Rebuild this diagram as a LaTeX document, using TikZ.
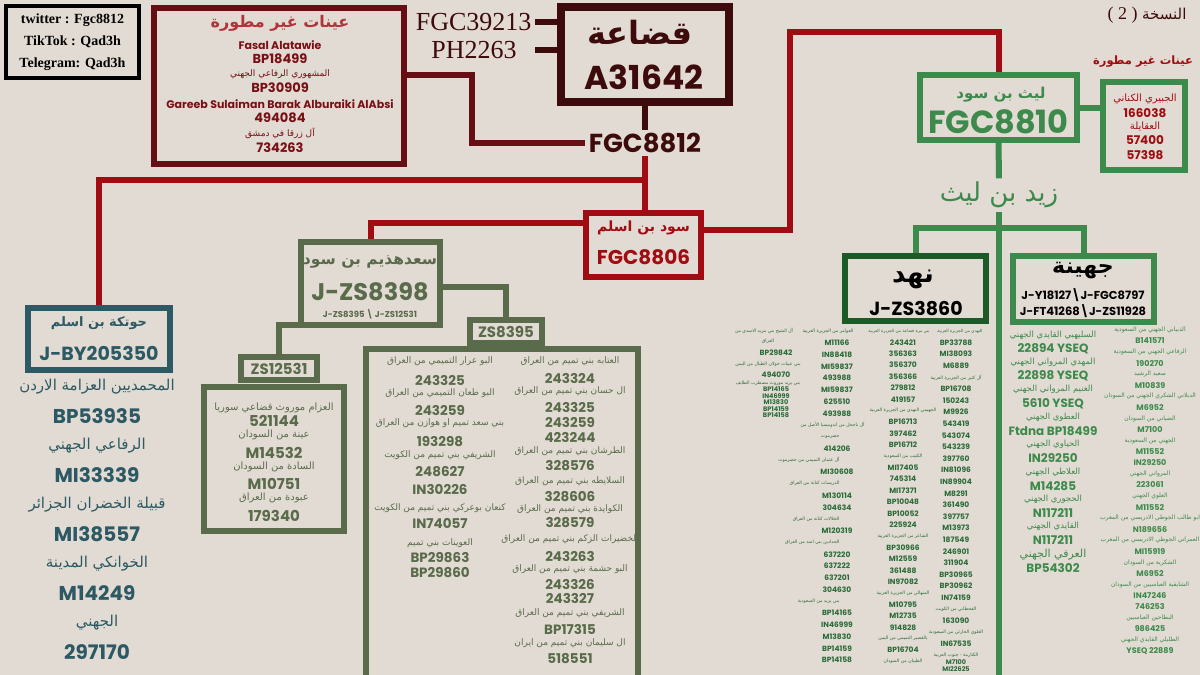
\documentclass[tikz,border=0pt]{standalone}
\usepackage{fontspec}
\setmainfont{Liberation Serif}
\newfontfamily\arabicfont[Script=Arabic]{DejaVu Sans}
\newfontfamily\numfont{Poppins}
\TeXXeTstate=1
\newcommand\fsz[1]{\fontsize{#1}{#1}\selectfont}
\newcommand\ar[1]{{\arabicfont\beginR#1\endR}}
\newcommand\plainwrap[1]{#1}
\definecolor{paper}{HTML}{E2DBD3}
\definecolor{qmaroon}{HTML}{3D0B0C}
\definecolor{umaroon}{HTML}{650E13}
\definecolor{ured}{HTML}{B3333A}
\definecolor{utext}{HTML}{7A1016}
\definecolor{sred}{HTML}{A00C11}
\definecolor{lgreen}{HTML}{3D8A4C}
\definecolor{ngreen}{HTML}{1C5A27}
\definecolor{ntext}{HTML}{2A6B38}
\definecolor{saadgreen}{HTML}{5A6B4B}
\definecolor{hteal}{HTML}{2C5963}

\begin{document}
\begin{tikzpicture}[x=1pt,y=-1pt,
  arb/.style={font=\fsz{#1},/utils/exec=\let\wrap\ar},
  arbold/.style={font=\bfseries\fsz{#1},/utils/exec=\let\wrap\ar},
  num/.style={font=\numfont\bfseries\fsz{#1},/utils/exec=\let\wrap\plainwrap},
  box/.style={draw,line width=6pt,inner sep=0pt},
  link/.style={line width=6pt},
  uname/.style={num=11},uarab/.style={arb=9},unum/.style={num=13},
  har/.style={arb=15},hnum/.style={num=20},
  zar/.style={arb=10},znum/.style={num=15},
  tar/.style={arb=9},tnum/.style={num=13.5},
  rar/.style={arb=10},rnum/.style={num=12},
  jar/.style={arb=8.5},jbig/.style={arb=11},jnum/.style={num=12},
  kar/.style={arb=6},knum/.style={num=8},
  nar/.style={arb=4.6},nnum/.style={num=7.5},snum/.style={num=6.5},
  aar/.style={arb=4.6,xshift=-8pt},
  ahead/.style={arb=4.6,xshift=-12pt},
  bar/.style={arb=4.6,anchor=east,xshift=6pt},
  bhead/.style={arb=4.6,anchor=east,xshift=20pt},
  chead/.style={arb=4.2,xshift=-4pt},
  dhead/.style={arb=4.2,xshift=4pt},
  nwide/.style={arb=4.6,anchor=east,xshift=31pt}]
\useasboundingbox (0,0) rectangle (1200,675);
\fill[paper] (0,0) rectangle (1200,675);

% contacts
\node[box,line width=4pt,minimum width=133pt,minimum height=72pt,align=center,
  font=\bfseries\fontsize{14}{22}\selectfont] (contact) at (72.5,42)
  {twitter : Fgc8812\\TikTok : Qad3h\\Telegram: Qad3h};

% version
\node[text=qmaroon] (version) at (1147,15)
  {\fsz{18}( 2 )\ {\fsz{15}\ar{النسخة}}};

% Quda'a
\node[box,qmaroon,line width=8pt,minimum width=168pt,minimum height=95pt] (quda) at (645,54.5) {};
\node[arbold=32,text=qmaroon] (quda-name) at (640,32) {\ar{قضاعة}};
\node[num=33,text=qmaroon] (quda-snp) at (644,77) {A31642};
\node[font=\fsz{26},text=qmaroon,anchor=east] (fgc39213) at (535,22) {FGC39213};
\node[font=\fsz{26},text=qmaroon] (ph2263) at (474,50) {PH2263};
\node[num=26,text=qmaroon] (fgc8812) at (645,143) {FGC8812};
\draw[link,qmaroon] (fgc39213.east) -- (fgc39213.east -| quda.west);
\draw[link,qmaroon] (fgc39213.east |- ph2263) -- (ph2263 -| quda.west);
\draw[link,qmaroon] (quda.south) -- (fgc8812.north);

% unsampled (left)
\node[box,umaroon,minimum width=250pt,minimum height=156pt] (unsampled) at (279,86) {};
\node[arbold=16,text=ured] (unsampled-title) at (280,23) {\ar{عينات غير مطورة}};
\foreach \y/\k/\txt [count=\i] in {45/uname/Fasal Alatawie, 59/unum/BP18499,
    74/uarab/المشهوري الرفاعي الجهني, 88/unum/BP30909,
    104/uname/Gareeb Sulaiman Barak Alburaiki AlAbsi, 118/unum/494084,
    133/uarab/آل زرقا في دمشق, 148/unum/734263}
  \node[\k,text=utext] (unsampled-\i) at (280,\y) {\wrap{\txt}};
\draw[link,umaroon] ([yshift=11pt]unsampled.east) -- ++(65,0) |- (fgc8812.west);

% Sod bin Aslam
\node[box,sred,minimum width=115pt,minimum height=64pt] (sod) at (643.5,245) {};
\node[arbold=14,text=sred] (sod-name) at (643.5,228) {\ar{سود بن اسلم}};
\node[num=20,text=sred] (sod-snp) at (643.5,257) {FGC8806};
\coordinate (split) at (fgc8812.south |- 0,180);
\coordinate (bend) at (790,32);
\draw[link,sred] (fgc8812.south) -- (fgc8812.south |- sod.north);

% Hawtaka
\node[box,hteal,minimum width=142pt,minimum height=62pt] (hawtaka) at (99,339) {};
\node[arbold=13,text=hteal] (hawtaka-name) at (99,323) {\ar{حوتكة بن اسلم}};
\node[num=19,text=hteal] (hawtaka-snp) at (99,353) {J-BY205350};
\foreach \k/\txt [count=\i] in {har/المحمديين العزامة الاردن, hnum/BP53935,
    har/الرفاعي الجهني, hnum/MI33339, har/قبيلة الخضران الجزائر, hnum/MI38557,
    har/الخوانكي المدينة, hnum/M14249, har/الجهني, hnum/297170}
  \node[\k,text=hteal] (hawtaka-\i) at (97,{387+(\i-1)*29.4}) {\wrap{\txt}};
\draw[link,sred] (split) -| (hawtaka.north);

% Saad Hudhaym
\node[box,saadgreen,minimum width=139pt,minimum height=83pt] (saad) at (370.5,283.5) {};
\node[arbold=15.5,text=saadgreen] (saad-name) at (370,262) {\ar{سعدهذيم بن سود}};
\node[num=24,text=saadgreen] (saad-snp) at (370,292) {J-ZS8398};
\node[num=8.5,text=saadgreen] (saad-sub) at (370,314) {J-ZS8395 \textbackslash\ J-ZS12531};
\draw[link,sred] ([yshift=22pt]sod.west) -| (saad.north);

\node[box,saadgreen,minimum width=272pt,minimum height=340pt] (tamim) at (502,519) {};
\node[box,saadgreen,minimum width=72pt,minimum height=23pt,num=15,text=saadgreen] (zs8395) at (506,331.5) {ZS8395};
\draw[link,saadgreen] ([yshift=-3.5pt]saad.east) -| (zs8395.north);
\foreach \y/\k/\txt [count=\i] in {361/tar/العتابه بني تميم من العراق, 378/tnum/243324,
    391/tar/ال حسان بني تميم من العراق, 407/tnum/243325, 422/tnum/243259, 437/tnum/423244,
    451/tar/الطرشان بني تميم من العراق, 466/tnum/328576, 481/tar/السلايطه بني تميم من العراق,
    497/tnum/328606, 509/tar/الكوايدة بني تميم من العراق, 523/tnum/328579,
    539/tar/الخضيرات الزكم بني تميم من العراق, 556/tnum/243263,
    569/tar/البو حشمة بني تميم من العراق, 584/tnum/243326, 598/tnum/243327,
    613/tar/الشريفي بني تميم من العراق, 629/tnum/BP17315,
    643/tar/ال سليمان بني تميم من ايران, 659/tnum/518551}
  \node[\k,text=saadgreen] (tamim-r\i) at (570,\y) {\wrap{\txt}};
\foreach \y/\k/\txt [count=\i] in {361/tar/البو عرار التميمي من العراق, 380/tnum/243325,
    393/tar/البو طعان التميمي من العراق, 410/tnum/243259,
    423/tar/بني سعد تميم او هوازن من العراق, 442/tnum/193298,
    455/tar/الشريفي بني تميم من الكويت, 472/tnum/248627, 489/tnum/IN30226,
    508/tar/كنعان بوعركي بني تميم من الكويت, 523/tnum/IN74057,
    543/tar/العوينات بني تميم, 558/tnum/BP29863, 573/tnum/BP29860}
  \node[\k,text=saadgreen] (tamim-l\i) at (440,\y) {\wrap{\txt}};

\node[box,saadgreen,minimum width=76pt,minimum height=23pt,num=15,text=saadgreen] (zs12531) at (279,368.5) {ZS12531};
\node[box,saadgreen,minimum width=140pt,minimum height=144pt] (azzam) at (274,459) {};
\draw[link,saadgreen] ([shift={(3pt,3pt)}]saad.south west) -| (zs12531.north);
\foreach \y/\k/\txt [count=\i] in {408/zar/العزام موروث قضاعي سوريا, 421/znum/521144,
    435/zar/عينة من السودان, 453/znum/M14532, 467/zar/السادة من السودان,
    484/znum/M10751, 498/zar/عبودة من العراق, 516/znum/179340}
  \node[\k,text=saadgreen] (azzam-\i) at (274,\y) {\wrap{\txt}};

% Laith bin Sod
\node[box,lgreen,minimum width=157pt,minimum height=65pt] (laith) at (998.5,107.5) {};
\node[arbold=15,text=lgreen] (laith-name) at (1001,95) {\ar{ليث بن سود}};
\node[num=32,text=lgreen] (laith-snp) at (998.5,122) {FGC8810};
\draw[link,sred] ([yshift=15pt]sod.east) -| (bend) -| (laith.north);
\node[box,lgreen,minimum width=82pt,minimum height=88pt] (laith-unsampled) at (1144,126) {};
\node[arbold=11.5,text=sred] (laith-unsampled-title) at (1143,62) {\ar{عينات غير مطورة}};
\foreach \y/\k/\txt [count=\i] in {99/rar/الجبيري الكناني, 113/rnum/166038,
    126/rar/العقايلة, 140/rnum/57400, 155/rnum/57398}
  \node[\k,text=sred] (laith-unsampled-\i) at (1145,\y) {\wrap{\txt}};
\draw[link,lgreen] (laith.east) -- (laith.east -| laith-unsampled.west);

% Zayd bin Laith
\node[arb=26,text=lgreen] (zayd) at (999,195) {\ar{زيد بن ليث}};
\coordinate (fork) at (zayd.south |- 0,228);
\draw[link,lgreen] (laith.south) -- (zayd.north);
\draw[link,lgreen] (zayd.south) -- (zayd.south |- 0,675);

% Nahd
\node[box,ngreen,minimum width=141pt,minimum height=65pt] (nahd) at (915.5,288.5) {};
\node[arbold=26] (nahd-name) at (913,279) {\ar{نهد}};
\node[num=19] (nahd-snp) at (916,309) {J-ZS3860};
\draw[link,lgreen] (fork) -| (nahd.north);
\foreach \y/\k/\txt [count=\i] in {331/ahead/آل الشيخ بني مزيد الاسدي من, 341/aar/العراق,
    353/nnum/BP29842, 364/aar/بني عبيات خولان الطيال من اليمن, 375/nnum/494070,
    383/aar/بني يزيد موروث مضطرب الطايف, 389.5/snum/BP14165, 396/snum/IN46999,
    402.5/snum/M13830, 409/snum/BP14159, 415.5/snum/BP14158}
  \node[\k,text=ntext] (nahd-a\i) at (776,\y) {\wrap{\txt}};
\foreach \k/\txt [count=\i] in {bhead/العوامر من الجزيرة العربية, nnum/M11166, nnum/IN88418,
    nnum/MI59837, nnum/493988, nnum/MI59837, nnum/625510, nnum/493988,
    nwide/آل باجحل من اندونيسيا الأصل من, bar/حضرموت, nnum/414206,
    bar/آل عثمان التميمي من حضرموت, nnum/MI30608, bar/الدريسات كنانة من العراق,
    nnum/M130114, nnum/304634, bar/الخلالات كنانة من العراق, nnum/M120319,
    bar/الحدادين بني اسد من العراق, nnum/637220, nnum/637222, nnum/637201, nnum/304630,
    bar/بني يزيد من السعودية, nnum/BP14165, nnum/IN46999, nnum/M13830, nnum/BP14159,
    nnum/BP14158}
  \node[\k,text=ntext] (nahd-b\i) at (837,{331+(\i-1)*11.75}) {\wrap{\txt}};
\foreach \k/\txt [count=\i] in {chead/بني مرة قضاعة من الجزيرة العربية, nnum/243421,
    nnum/356363, nnum/356370, nnum/356366, nnum/279812, nnum/419157,
    nar/الجهيمي النهدي من الجزيرة العربية, nnum/BP16713, nnum/397462, nnum/BP16712,
    nar/الكثيب من السعودية, nnum/MI17405, nnum/745314, nnum/MI17371, nnum/BP10048,
    nnum/BP10052, nnum/225924, nar/الشاعر من الجزيرة العربية, nnum/BP30966,
    nnum/M12559, nnum/361488, nnum/IN97082, nar/المنهالي من الجزيرة العربية,
    nnum/M10795, nnum/M12735, nnum/914828, nar/بالقصير التميمي من اليمن,
    nnum/BP16704, nar/الطيبان من السودان}
  \node[\k,text=ntext] (nahd-c\i) at (903,{331+(\i-1)*11.4}) {\wrap{\txt}};
\foreach \k/\txt [count=\i] in {dhead/النهدي من الجزيرة العربية, nnum/BP33788, nnum/MI38093,
    nnum/M6889, nar/آل كثير من الجزيرة العربية, nnum/BP16708, nnum/150243, nnum/M9926,
    nnum/543419, nnum/543074, nnum/543239, nnum/397760, nnum/IN81096, nnum/IN89904,
    nnum/M8291, nnum/361490, nnum/397757, nnum/M13973, nnum/187549, nnum/246901,
    nnum/311904, nnum/BP30965, nnum/BP30962, nnum/IN74159, nar/القحطاني من الكويت,
    nnum/163090, nar/العلوي الحارثي من السعودية, nnum/IN67535}
  \node[\k,text=ntext] (nahd-d\i) at (956,{331+(\i-1)*11.6}) {\wrap{\txt}};
\foreach \y/\k/\txt [count=\i] in {655/nar/الكثارمة - جنوب العربية, 662/snum/M7100, 669/snum/MI22625}
  \node[\k,text=ntext] (nahd-e\i) at (956,\y) {\wrap{\txt}};

% Juhayna
\node[box,lgreen,minimum width=141pt,minimum height=66pt] (juhayna) at (1083.5,289) {};
\node[arbold=22] (juhayna-name) at (1083,271) {\ar{جهينة}};
\node[num=11.5] (juhayna-snp1) at (1083,295) {J-Y18127\textbackslash J-FGC8797};
\node[num=11.5] (juhayna-snp2) at (1083,311) {J-FT41268\textbackslash J-ZS11928};
\draw[link,lgreen] (fork) -| (juhayna.north);
\foreach \k/\txt [count=\i] in {jar/السليهبي القايدي الجهني, jnum/22894 YSEQ,
    jar/المهدي المرواني الجهني, jnum/22898 YSEQ, jar/الغنيم المرواني الجهني,
    jnum/5610 YSEQ, jar/العطوي الجهني, jnum/Ftdna BP18499, jar/الحياوي الجهني,
    jnum/IN29250, jar/العلاطي الجهني, jnum/M14285, jar/الحجوري الجهني, jnum/N117211,
    jar/القايدي الجهني, jnum/N117211, jbig/العرفي الجهني, jnum/BP54302}
  \node[\k,text=lgreen] (juhayna-l\i) at (1053,{335+(\i-1)*13.7}) {\wrap{\txt}};
\foreach \k/\txt [count=\i] in {kar/الذبياني الجهني من السعودية, knum/B141571,
    kar/الرفاعي الجهني من السعودية, knum/190270, kar/سعيد الرشيد, knum/M10839,
    kar/الدبلاني الشكري الجهني من السودان, knum/M6952, kar/الضباني من السودان,
    knum/M7100, kar/الجهني من السعودية, knum/M11552, knum/IN29250,
    kar/المرواني الجهني, knum/223061, kar/العلوي الجهني, knum/M11552,
    kar/ابو طالب الجوطي الادريسي من المغرب, knum/N189656,
    kar/العمراني الجوطي الادريسي من المغرب, knum/MI15919, kar/الشكرية من السودان,
    knum/M6952, kar/الشايقية العباسيين من السودان, knum/IN47246, knum/746253,
    kar/البطاحين العباسيين, knum/986425, kar/الطليلي القايدي الجهني, knum/YSEQ 22889}
  \node[\k,text=lgreen] (juhayna-r\i) at (1150,{330+(\i-1)*11.07}) {\wrap{\txt}};
\end{tikzpicture}
\end{document}
